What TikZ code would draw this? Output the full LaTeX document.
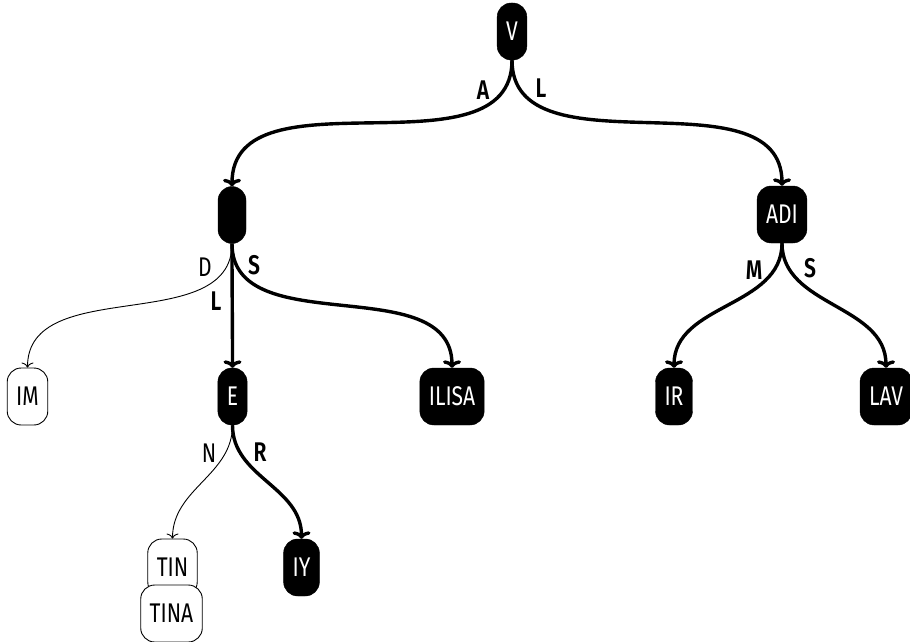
\documentclass[tikz,border=0pt]{standalone}
\usepackage{fontspec}
\setmainfont{Fira Sans}[BoldFont=* SemiBold, FakeStretch=0.78]
\usetikzlibrary{arrows.meta}
\newcommand{\nfont}{\fontsize{27}{29}\selectfont}
\begin{document}
\begin{tikzpicture}[x=1pt,y=-1pt,
  blk/.style={rounded corners=14pt, fill=black, draw=black, text=white, minimum height=57pt, inner xsep=9pt, inner ysep=0pt, font=\nfont},
  wht/.style={rounded corners=14pt, fill=white, draw=black, line width=0.9pt, minimum height=57pt, inner xsep=9pt, inner ysep=0pt, font=\nfont},
  thk/.style={line width=3.4pt, -{Computer Modern Rightarrow[width=18pt,length=7.5pt]}},
  thn/.style={line width=0.9pt, -{Computer Modern Rightarrow[width=12pt,length=5pt]}},
  lbb/.style={font=\nfont\bfseries, inner sep=0pt},
  lbn/.style={font=\nfont, inner sep=0pt},
]
\useasboundingbox (0,0) rectangle (910,642);
% nodes
\node[blk] (V) at (512,31.5) {V};
\node[blk, minimum width=28pt] (X) at (232,215) {};
\node[blk] (ADI) at (782,214.5) {ADI};
\node[wht] (IM) at (27.5,396.5) {IM};
\node[blk] (E) at (232.5,396.5) {E};
\node[blk] (ILISA) at (452,396.5) {ILISA};
\node[blk] (IR) at (674,396.5) {IR};
\node[blk] (LAV) at (886,396.5) {LAV};
\node[wht] (TIN) at (172.5,567.5) {TIN};
\node[wht] (TINA) at (171.5,613.5) {TINA};
\node[blk] (IY) at (301.5,567.5) {IY};
% edges
\draw[thk] (V.south) to[out=-90,in=90] (X.north);
\draw[thk] (V.south) to[out=-90,in=90] (ADI.north);
\draw[thn] (X.south) to[out=-90,in=90] (IM.north);
\draw[thk] (X.south) to[out=-90,in=90] (E.north);
\draw[thk] (X.south) to[out=-90,in=90] (ILISA.north);
\draw[thn] (E.south) to[out=-90,in=90] (TIN.north);
\draw[thk] (E.south) to[out=-90,in=90] (IY.north);
\draw[thk] (ADI.south) to[out=-90,in=90] (IR.north);
\draw[thk] (ADI.south) to[out=-90,in=90] (LAV.north);
% labels
\node[lbb] (lA) at (483,90) {A};
\node[lbb] (lL1) at (541,88) {L};
\node[lbn] (lD) at (205,267) {D};
\node[lbb] (lS1) at (254,265) {S};
\node[lbb] (lL2) at (216,301) {L};
\node[lbn] (lN) at (209,453) {N};
\node[lbb] (lR) at (260,452) {R};
\node[lbb] (lM) at (754,270) {M};
\node[lbb] (lS2) at (810,268) {S};
\end{tikzpicture}
\end{document}
